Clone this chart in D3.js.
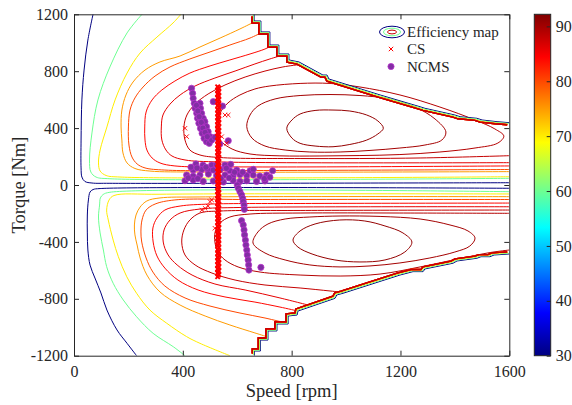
<!DOCTYPE html>
<html>
<head>
<meta charset="utf-8">
<script src="https://cdn.jsdelivr.net/npm/d3@7"></script>
<style>
body { margin: 0; background: #fff; }
svg text { font-family: "Liberation Serif", "Times New Roman", serif; fill: #262626; }
</style>
</head>
<body>
<div id="chart"></div>
<script>
// ticks
const speedTicks = [0, 400, 800, 1200, 1600];
const torqueTicks = [-1200, -800, -400, 0, 400, 800, 1200];
const effTicks = [30, 40, 50, 60, 70, 80, 90];
const effRange = [30, 92.2];

// contour levels of the efficiency map (%)
const levels = [30, 60, 70, 75, 80, 84, 86, 88, 89, 90, 91];

// contour branches, [speed rpm, torque Nm]
// a branch whose first and last points are equal is closed
const eff30 = [
  [[70,1200],[51,1019],[37,808],[29,598],[26,316],[26,120],[29,56],[40,25],[66,14],[132,12],[1600,16]],
  [[1600,-23],[96,-25],[70,-32],[59,-49],[53,-105],[49,-211],[49,-337],[51,-457],[59,-563],[77,-654],[99,-759],[121,-879],[158,-1019],[195,-1113],[230,-1200]]
];
const eff60 = [
  [[250,1200],[195,1069],[132,830],[88,598],[66,366],[57,176],[62,91],[81,56],[132,44],[1600,47]],
  [[1600,-47],[132,-51],[107,-67],[97,-91],[94,-141],[90,-225],[96,-337],[108,-457],[120,-574],[144,-691],[181,-808],[230,-926],[291,-1043],[365,-1137],[408,-1200]]
];
const eff70 = [
  [[393,1200],[364,1139],[305,1040],[243,928],[195,787],[151,598],[121,408],[96,246],[90,155],[96,98],[118,67],[169,56],[1600,58]],
  [[1600,-63],[316,-65],[147,-74],[129,-105],[120,-176],[126,-246],[144,-387],[163,-504],[194,-645],[230,-761],[279,-879],[341,-972],[414,-1066],[463,-1113],[573,-1200]]
];
const eff75 = [
  [[662,1146],[610,1097],[537,1033],[463,970],[390,907],[316,865],[261,808],[217,724],[191,633],[176,527],[173,408],[176,316],[180,225],[195,155],[224,116],[279,98],[463,91],[1600,94]],
  [[1600,-82],[463,-84],[316,-91],[268,-112],[243,-155],[228,-211],[222,-281],[224,-351],[232,-422],[243,-513],[268,-633],[316,-752],[390,-844],[482,-921],[573,-984],[665,-1040],[713,-1069]]
];
const eff80 = [
  [[687,1069],[647,1033],[573,984],[500,935],[426,886],[353,830],[298,766],[254,689],[224,612],[206,527],[200,408],[202,281],[213,197],[232,148],[261,120],[334,105],[647,102],[1600,109]],
  [[1600,-102],[647,-102],[371,-105],[298,-134],[265,-176],[250,-246],[246,-330],[249,-401],[265,-513],[290,-612],[334,-710],[408,-794],[500,-851],[610,-900],[702,-935],[779,-970]]
];
const eff84 = [
  [[724,977],[702,956],[647,921],[573,879],[500,837],[426,787],[371,731],[323,668],[287,598],[265,513],[260,408],[261,316],[268,246],[287,190],[316,155],[371,134],[647,127],[1600,134]],
  [[1600,-127],[831,-130],[500,-134],[390,-148],[334,-176],[305,-232],[290,-302],[291,-401],[305,-499],[334,-584],[382,-668],[456,-738],[555,-787],[665,-823],[757,-858],[823,-886]]
];
const eff86 = [
  [[768,914],[720,886],[665,851],[592,801],[518,752],[445,696],[390,633],[353,569],[327,492],[321,408],[323,316],[338,246],[360,204],[408,176],[537,162],[1600,157]],
  [[1600,-153],[610,-158],[463,-169],[390,-197],[353,-246],[331,-316],[328,-401],[346,-492],[379,-562],[434,-633],[518,-696],[629,-738],[757,-794],[875,-851]]
];
const eff88 = [
  [[831,847],[768,830],[702,801],[629,759],[555,703],[493,640],[445,569],[415,492],[404,408],[408,316],[426,246],[463,211],[537,193],[831,186],[1272,190],[1600,206]],
  [[1600,-176],[831,-179],[537,-183],[463,-197],[426,-246],[404,-316],[396,-401],[408,-492],[445,-562],[507,-619],[592,-668],[702,-703],[831,-724],[941,-745],[996,-756]]
];
const eff89 = [
  [[522,408],[537,506],[566,577],[610,633],[665,675],[720,696],[831,714],[941,714],[1051,689],[1198,633],[1345,548],[1474,457],[1547,394],[1580,344],[1558,295],[1474,260],[1345,232],[1198,214],[1051,207],[904,204],[757,205],[647,218],[581,253],[537,316],[522,408]],
  [[1600,-199],[1198,-197],[831,-197],[647,-204],[573,-225],[537,-267],[519,-330],[518,-401],[529,-471],[555,-527],[603,-576],[684,-612],[831,-633],[978,-640],[1125,-626],[1272,-576],[1419,-517],[1529,-475],[1600,-457]]
];
const eff90 = [
  [[635,410],[647,492],[676,555],[739,605],[831,629],[941,636],[1051,629],[1161,605],[1254,548],[1327,464],[1367,373],[1352,316],[1290,281],[1198,260],[1088,243],[978,232],[867,232],[776,246],[702,274],[654,330],[635,410]],
  [[658,-408],[676,-330],[713,-274],[776,-239],[867,-225],[978,-218],[1125,-221],[1272,-239],[1382,-281],[1448,-323],[1474,-373],[1455,-429],[1400,-471],[1308,-513],[1198,-548],[1088,-569],[978,-576],[867,-562],[776,-527],[702,-478],[658,-408]]
];
const eff91 = [
  [[782,399],[801,457],[831,499],[886,524],[952,527],[1014,520],[1076,492],[1117,450],[1137,399],[1117,359],[1076,316],[1014,285],[952,269],[886,274],[831,293],[801,330],[782,399]],
  [[805,-387],[831,-323],[886,-274],[977,-246],[1069,-253],[1143,-288],[1209,-337],[1242,-401],[1216,-471],[1143,-527],[1051,-541],[959,-527],[875,-485],[823,-436],[805,-387]]
];

// torque limit of the map (all open contours close on it)
const envTop = [[662,1200],[662,1153],[687,1153],[687,1076],[720,1076],[720,984],[753,984],[753,921],[790,921],[790,879],[827,865],[915,773],[930,773],[937,745],[1125,633],[1272,550],[1290,539],[1400,492],[1419,480],[1481,469],[1500,457],[1555,445],[1600,438]];
const envBottom = [[663,-1200],[663,-1167],[685,-1167],[685,-1090],[713,-1090],[713,-1026],[746,-1026],[746,-977],[787,-977],[787,-921],[820,-914],[823,-886],[959,-797],[966,-773],[989,-761],[1198,-633],[1246,-609],[1283,-609],[1290,-590],[1393,-550],[1408,-534],[1481,-515],[1496,-504],[1529,-504],[1544,-492],[1600,-485]];
const envLevels = [30, 60, 70, 75, 80, 84, 86, 88];

// CS operating points
const csSpeed = 530;
const csTorque = [-645,-631,-618,-604,-590,-577,-563,-549,-536,-522,-508,-495,-481,-467,-454,-440,-426,-413,-399,-385,-372,-358,-344,-331,-317,-303,-290,-276,-262,-249,-235,-221,-208,-194,-180,-167,-153,-139,-126,-112,-98,-85,-71,-57,-44,-30,-16,-3,11,25,38,52,66,79,93,107,120,134,148,161,175,189,202,216,230,243,257,271,284,298,312,325,339,353,366,380,394,407,421,435,448,462,476,489,503,517,530,544,558,571,585,599,612,626,640,653,667,681,690];
const csOther = [[408,399],[414,340],[555,492],[567,492],[561,293],[543,340],[500,-117],[482,-164],[506,-105],[518,-304],[470,-176],[493,-148]];

// NCMS operating points
const ncmsUpper = [[432,680],[436,645],[438,609],[442,574],[445,539],[451,504],[454,469],[459,434],[465,398],[471,363],[478,328],[487,304],[497,293],
  [463,574],[465,539],[469,504],[475,469],[481,445],[487,410],[493,375],[500,340],[506,316],
  [450,560],[455,520],[460,480],[468,440],[474,400],[482,370],[490,340],
  [512,586],[546,555],[518,335],[536,288],[567,311]];
const ncmsLow = [[448,148],[474,140],[506,140],[524,142],[555,140],[576,145],
  [438,105],[469,108],[494,102],[512,105],[537,108],[573,100],[598,105],[647,100],[659,110],[730,100],
  [414,70],[438,63],[463,70],[494,77],[524,66],[555,70],[585,63],[610,73],[635,66],[659,70],[683,63],[708,70],
  [408,30],[438,35],[475,25],[512,28],[549,21],[585,32],[610,25],[635,30],[671,25],[702,28],
  [430,125],[452,120],[485,125],[530,125],[560,118],[590,90],[620,90],[700,45],[720,55],[420,50],[455,45],[540,45],[570,50]];
const ncmsDown = [[600,0],[604,-23],[610,-47],[616,-70],[620,-94],[622,-117],[625,-141],[626,-171],
  [616,-251],[622,-281],[625,-316],[627,-351],[630,-387],[632,-422],[635,-457],[637,-492],[640,-527],[642,-562],[643,-598],
  [687,-579]];

const contourSets = [eff30, eff60, eff70, eff75, eff80, eff84, eff86, eff88, eff89, eff90, eff91];

const w = 572, h = 405;
const plot = {left: 74, right: 509.3, top: 14.3, bottom: 355.7};
const ink = "#262626";
const serif = "Liberation Serif, Times New Roman, serif";

const svg = d3.select("#chart").append("svg")
  .attr("width", w)
  .attr("height", h);

const x = d3.scaleLinear().domain([0, 1600]).range([plot.left, plot.right]);
const y = d3.scaleLinear().domain([-1200, 1200]).range([plot.bottom, plot.top]);

// MATLAB jet colormap
const jetStops = [0, 0.125, 0.375, 0.625, 0.875, 1];
const jet = d3.scaleLinear()
  .domain(jetStops.map(f => effRange[0] + f * (effRange[1] - effRange[0])))
  .range(["#000080", "#0000ff", "#00ffff", "#ffff00", "#ff0000", "#800000"]);

svg.append("clipPath").attr("id", "clip")
  .append("rect")
  .attr("x", plot.left).attr("y", plot.top)
  .attr("width", plot.right - plot.left).attr("height", plot.bottom - plot.top);

const g = svg.append("g").attr("clip-path", "url(#clip)");

const openLine = d3.line().x(d => x(d[0])).y(d => y(d[1])).curve(d3.curveCatmullRom.alpha(0.5));
const closedLine = d3.line().x(d => x(d[0])).y(d => y(d[1])).curve(d3.curveCatmullRomClosed.alpha(0.5));
const straight = d3.line().x(d => x(d[0])).y(d => y(d[1]));

levels.forEach((lev, i) => {
  contourSets[i].forEach(br => {
    const first = br[0], last = br[br.length - 1];
    const closed = first[0] === last[0] && first[1] === last[1];
    g.append("path")
      .attr("d", closed ? closedLine(br.slice(0, -1)) : openLine(br))
      .attr("fill", "none")
      .attr("stroke", jet(lev))
      .attr("stroke-width", 1);
  });
});

// contours stacked on the torque limit
envLevels.forEach((lev, i) => {
  const d = Math.min(i, 3) * 1.0;
  g.append("path")
    .attr("d", straight(envTop))
    .attr("transform", `translate(${-d * 0.7},${d * 0.7})`)
    .attr("fill", "none").attr("stroke", jet(lev)).attr("stroke-width", i >= 3 ? 1.4 : 1);
  g.append("path")
    .attr("d", straight(envBottom))
    .attr("transform", `translate(${-d * 0.7},${-d * 0.7})`)
    .attr("fill", "none").attr("stroke", jet(lev)).attr("stroke-width", i >= 3 ? 1.4 : 1);
});

// NCMS
const ncms = ncmsUpper.concat(ncmsLow, ncmsDown);
g.append("g").selectAll("circle")
  .data(ncms)
  .enter().append("circle")
  .attr("cx", d => x(d[0]))
  .attr("cy", d => y(d[1]))
  .attr("r", 3.1)
  .attr("fill", "#822ea4")
  .attr("stroke", "#b832cc")
  .attr("stroke-width", 0.8);

// CS
const cs = csTorque.map((t, i) => [csSpeed + (i % 2 ? 2 : -2), t]).concat(csOther);
const cross = "M-2.2,-2.2L2.2,2.2M2.2,-2.2L-2.2,2.2";
g.append("g").selectAll("path")
  .data(cs)
  .enter().append("path")
  .attr("d", cross)
  .attr("transform", d => `translate(${x(d[0])},${y(d[1])})`)
  .attr("fill", "none")
  .attr("stroke", "#ff0000")
  .attr("stroke-width", (d, i) => i < csTorque.length ? 1.9 : 0.9);

// axes (ticks inside, box)
const styleAxis = a => {
  a.attr("font-family", serif);
  a.selectAll("path.domain").attr("stroke", ink).attr("stroke-width", 1);
  a.selectAll(".tick line").attr("stroke", ink);
  a.selectAll("text").style("font-size", "16px").style("font-family", serif).attr("fill", ink);
};
const plain = d => String(d);
svg.append("g").attr("transform", `translate(0,${plot.bottom})`)
  .call(d3.axisBottom(x).tickValues(speedTicks).tickFormat(plain).tickSizeInner(-5).tickSizeOuter(0).tickPadding(10))
  .call(styleAxis);
svg.append("g").attr("transform", `translate(0,${plot.top})`)
  .call(d3.axisTop(x).tickValues(speedTicks).tickSizeInner(-5).tickSizeOuter(0).tickFormat(""))
  .call(styleAxis);
svg.append("g").attr("transform", `translate(${plot.left},0)`)
  .call(d3.axisLeft(y).tickValues(torqueTicks).tickFormat(plain).tickSizeInner(-5).tickSizeOuter(0).tickPadding(6))
  .call(styleAxis);
svg.append("g").attr("transform", `translate(${plot.right},0)`)
  .call(d3.axisRight(y).tickValues(torqueTicks).tickSizeInner(-5).tickSizeOuter(0).tickFormat(""))
  .call(styleAxis);

svg.append("text")
  .attr("x", (plot.left + plot.right) / 2).attr("y", 397)
  .attr("text-anchor", "middle").style("font-size", "18.5px")
  .text("Speed [rpm]");
svg.append("text")
  .attr("transform", `translate(25,${(plot.top + plot.bottom) / 2}) rotate(-90)`)
  .attr("text-anchor", "middle").style("font-size", "18.5px")
  .text("Torque [Nm]");

// colorbar
const cb = {x: 534.3, w: 16.4};
const cy = d3.scaleLinear().domain(effRange).range([plot.bottom, plot.top]);
const grad = svg.append("defs").append("linearGradient")
  .attr("id", "jet").attr("x1", 0).attr("y1", 1).attr("x2", 0).attr("y2", 0);
jet.domain().forEach(v => {
  grad.append("stop").attr("offset", (v - effRange[0]) / (effRange[1] - effRange[0]))
    .attr("stop-color", jet(v));
});
svg.append("rect")
  .attr("x", cb.x).attr("y", plot.top)
  .attr("width", cb.w).attr("height", plot.bottom - plot.top)
  .attr("fill", "url(#jet)");
svg.append("g").attr("transform", `translate(${cb.x + cb.w},0)`)
  .call(d3.axisRight(cy).tickValues(effTicks).tickFormat(plain).tickSizeInner(-4).tickSizeOuter(0).tickPadding(5))
  .call(styleAxis)
  .call(a => a.select("path.domain").remove());
svg.append("rect")
  .attr("x", cb.x).attr("y", plot.top)
  .attr("width", cb.w).attr("height", plot.bottom - plot.top)
  .attr("fill", "none").attr("stroke", ink).attr("stroke-width", 1);

// legend
const lg = svg.append("g").attr("transform", "translate(392,0)");
[[12.5, 5.8, 30], [8.5, 3.8, 60], [4.5, 1.9, 88]].forEach(e => {
  lg.append("ellipse").attr("cx", 0).attr("cy", 32)
    .attr("rx", e[0]).attr("ry", e[1])
    .attr("fill", "none").attr("stroke", jet(e[2])).attr("stroke-width", 1);
});
lg.append("path").attr("d", cross).attr("transform", "translate(-1,49)")
  .attr("stroke", "#ff0000").attr("fill", "none");
lg.append("circle").attr("cx", -1).attr("cy", 66.5).attr("r", 3.1)
  .attr("fill", "#822ea4").attr("stroke", "#b832cc").attr("stroke-width", 0.8);
[["Efficiency map", 37], ["CS", 54], ["NCMS", 71.5]].forEach(t => {
  lg.append("text").attr("x", 15).attr("y", t[1]).style("font-size", "15px").text(t[0]);
});
</script>
</body>
</html>
